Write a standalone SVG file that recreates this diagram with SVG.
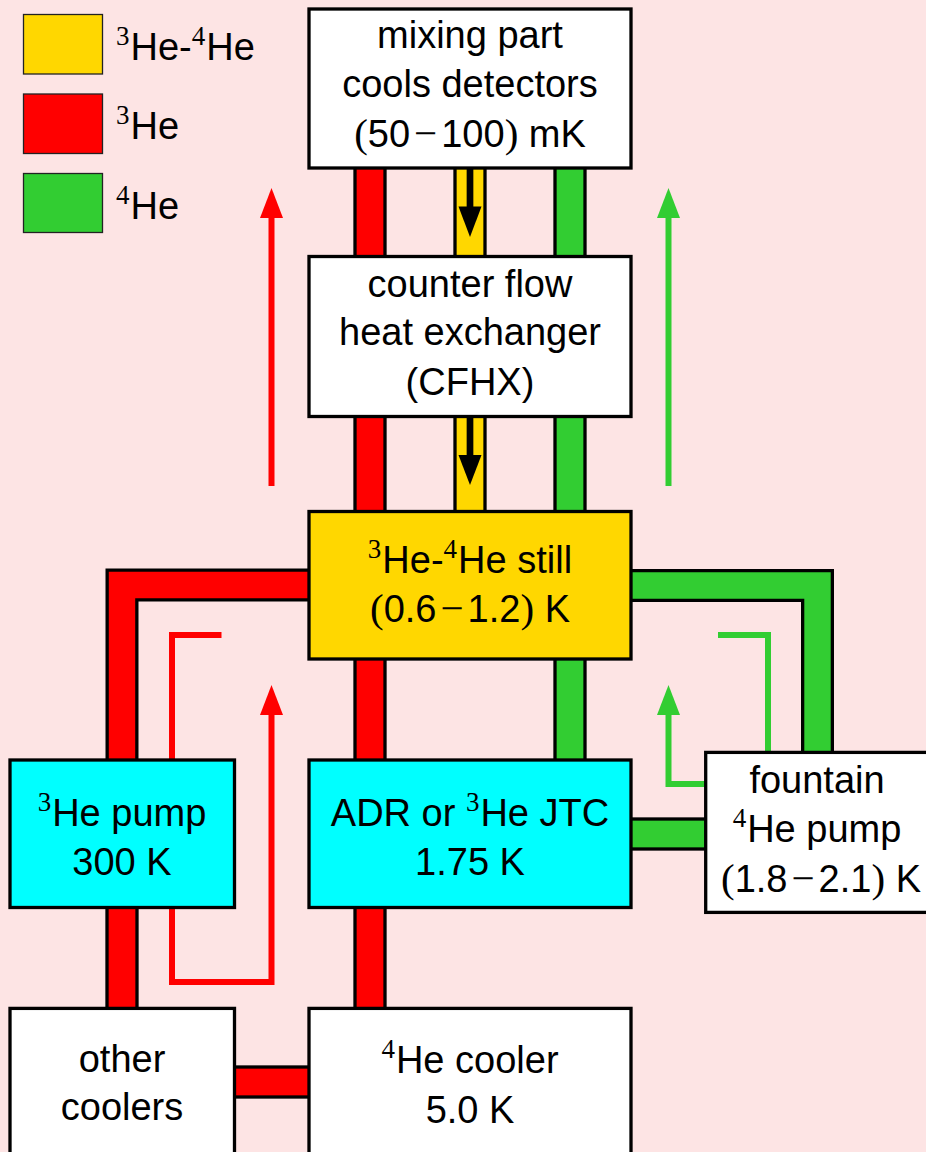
<svg xmlns="http://www.w3.org/2000/svg" width="926" height="1152" viewBox="0 0 926 1152">
<style>
.t{font-family:"Liberation Sans",Arial,sans-serif;font-size:38px;fill:#000;text-anchor:middle}
.l{text-anchor:start}
.sup{font-family:"Liberation Serif","Times New Roman",serif;font-size:27px}
.m{font-family:"Liberation Serif","Times New Roman",serif;font-size:41px}
.box{stroke:#000;stroke-width:3.3}
.bar{stroke:#000;stroke-width:3.3}
.lg{stroke:#222;stroke-width:1.3}
.yel{fill:#FFD700}.red{fill:#FF0000}.grn{fill:#32CD32}.cy{fill:#00FFFF}.wh{fill:#FFFFFF}
.pipeo{fill:none;stroke:#000;stroke-width:33;stroke-linejoin:miter}
.thin{fill:none;stroke-width:6;stroke-linejoin:miter}
</style>
<rect x="0" y="0" width="926" height="1152" fill="#FDE4E4"/>

<g id="legend">
  <rect class="lg yel" x="23.5" y="14.5" width="79" height="59.5"/>
  <rect class="lg red" x="23.5" y="94" width="79" height="59.5"/>
  <rect class="lg grn" x="23.5" y="173.5" width="79" height="59"/>
  <text class="t l" x="116" y="60"><tspan class="sup" dy="-15">3</tspan><tspan dx="1" dy="15">He-</tspan><tspan class="sup" dy="-15">4</tspan><tspan dx="1" dy="15">He</tspan></text>
  <text class="t l" x="116" y="139"><tspan class="sup" dy="-15">3</tspan><tspan dx="1" dy="15">He</tspan></text>
  <text class="t l" x="116" y="219"><tspan class="sup" dy="-15">4</tspan><tspan dx="1" dy="15">He</tspan></text>
</g>

<g id="connectors">
  <!-- mixing part to CFHX -->
  <rect class="bar red" x="355" y="165" width="30" height="95"/>
  <rect class="bar yel" x="455" y="165" width="30" height="95"/>
  <rect class="bar grn" x="555" y="165" width="30" height="95"/>
  <!-- CFHX to still -->
  <rect class="bar red" x="355" y="414" width="30" height="101"/>
  <rect class="bar yel" x="455" y="414" width="30" height="101"/>
  <rect class="bar grn" x="555" y="414" width="30" height="101"/>
  <!-- still to ADR -->
  <rect class="bar red" x="355" y="655" width="30" height="108"/>
  <rect class="bar grn" x="555" y="655" width="30" height="108"/>
  <!-- ADR to 4He cooler -->
  <rect class="bar red" x="355" y="904" width="30" height="108"/>
  <!-- 3He pump to other coolers -->
  <rect class="bar red" x="107" y="904" width="30" height="108"/>
  <!-- other coolers to 4He cooler -->
  <rect class="bar red" x="230" y="1067" width="84" height="30"/>
  <!-- ADR to fountain pump -->
  <rect class="bar grn" x="627" y="819" width="84" height="30"/>
  <!-- still to 3He pump (L) -->
  <polyline class="pipeo" points="122,765 122,585 314,585"/>
  <polyline fill="none" stroke="#FF0000" stroke-width="26.4" points="122,767 122,585 316,585"/>
  <!-- still to fountain pump (L) -->
  <polyline class="pipeo" points="626,585.5 817.5,585.5 817.5,757"/>
  <polyline fill="none" stroke="#32CD32" stroke-width="26.4" points="624,585.5 817.5,585.5 817.5,759"/>
  <!-- flow arrows inside mixture line -->
  <line x1="470" y1="168" x2="470" y2="208" stroke="#000" stroke-width="6.7"/>
  <polygon points="458.5,206.5 481.5,206.5 470,237" fill="#000"/>
  <line x1="470" y1="417" x2="470" y2="456" stroke="#000" stroke-width="6.7"/>
  <polygon points="458.5,455 481.5,455 470,485" fill="#000"/>
</g>

<g id="flow-arrows">
  <line x1="271.5" y1="486" x2="271.5" y2="216" stroke="#FF0000" stroke-width="6"/>
  <polygon points="260,218 283,218 271.5,188" fill="#FF0000"/>
  <line x1="668.5" y1="486" x2="668.5" y2="216" stroke="#32CD32" stroke-width="6"/>
  <polygon points="657,218 680,218 668.5,188" fill="#32CD32"/>
  <polyline class="thin" stroke="#FF0000" points="221.5,635 172,635 172,982 271.5,982 271.5,713"/>
  <polygon points="260,715 283,715 271.5,685" fill="#FF0000"/>
  <polyline class="thin" stroke="#32CD32" points="718,635 768,635 768,752"/>
  <polyline class="thin" stroke="#32CD32" points="706,784 668.5,784 668.5,713"/>
  <polygon points="657,715 680,715 668.5,685" fill="#32CD32"/>
</g>

<g id="mixing-part">
  <rect class="box wh" x="309" y="9" width="322" height="159"/>
  <text class="t" x="470" y="48">mixing part</text>
  <text class="t" x="470" y="97">cools detectors</text>
  <text class="t" x="470" y="147"><tspan class="m">(</tspan>50<tspan class="m" dx="4">−</tspan><tspan dx="4">100</tspan><tspan class="m">)</tspan> mK</text>
</g>

<g id="cfhx">
  <rect class="box wh" x="309" y="256.5" width="322" height="160"/>
  <text class="t" x="470" y="297">counter flow</text>
  <text class="t" x="470" y="345">heat exchanger</text>
  <text class="t" x="470" y="395">(CFHX)</text>
</g>

<g id="still">
  <rect class="box yel" x="309" y="511.5" width="322" height="147.5"/>
  <text class="t" x="470" y="573"><tspan class="sup" dy="-15">3</tspan><tspan dx="1" dy="15">He-</tspan><tspan class="sup" dy="-15">4</tspan><tspan dx="1" dy="15">He still</tspan></text>
  <text class="t" x="470" y="622"><tspan class="m">(</tspan>0.6<tspan class="m" dx="4">−</tspan><tspan dx="4">1.2</tspan><tspan class="m">)</tspan> K</text>
</g>

<g id="he3-pump">
  <rect class="box cy" x="10" y="760" width="224.5" height="147.5"/>
  <text class="t" x="122" y="826"><tspan class="sup" dy="-15">3</tspan><tspan dx="1" dy="15">He pump</tspan></text>
  <text class="t" x="122" y="875">300 K</text>
</g>

<g id="adr">
  <rect class="box cy" x="309" y="760" width="322" height="147.5"/>
  <text class="t" x="470" y="826">ADR or <tspan class="sup" dy="-15">3</tspan><tspan dx="1" dy="15">He JTC</tspan></text>
  <text class="t" x="470" y="875">1.75 K</text>
</g>

<g id="fountain-pump">
  <rect class="box wh" x="705.7" y="752.4" width="224" height="160"/>
  <text class="t" x="817" y="793">fountain</text>
  <text class="t" x="817" y="842"><tspan class="sup" dy="-15">4</tspan><tspan dx="1" dy="15">He pump</tspan></text>
  <text class="t" x="821" y="892"><tspan class="m">(</tspan>1.8<tspan class="m" dx="4">−</tspan><tspan dx="4">2.1</tspan><tspan class="m">)</tspan> K</text>
</g>

<g id="other-coolers">
  <rect class="box wh" x="10" y="1008.4" width="224.5" height="200"/>
  <text class="t" x="122" y="1072">other</text>
  <text class="t" x="122" y="1120">coolers</text>
</g>

<g id="he4-cooler">
  <rect class="box wh" x="309" y="1008.4" width="322" height="200"/>
  <text class="t" x="470" y="1073"><tspan class="sup" dy="-15">4</tspan><tspan dx="1" dy="15">He cooler</tspan></text>
  <text class="t" x="470" y="1123">5.0 K</text>
</g>
</svg>
